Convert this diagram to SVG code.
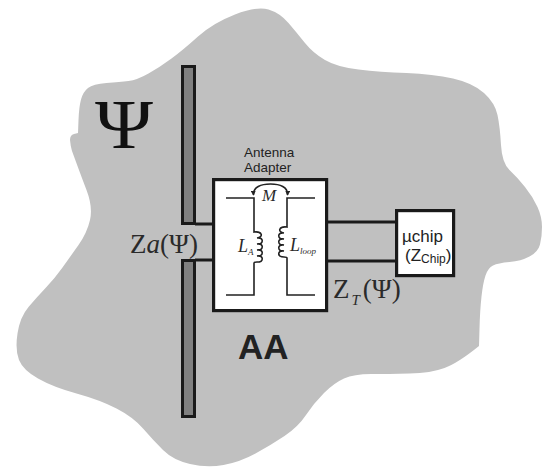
<svg xmlns="http://www.w3.org/2000/svg" width="542" height="472" viewBox="0 0 542 472">
<style>
.bar{fill:#808080;stroke:#1a1a1a;stroke-width:3}
.box{fill:#fff;stroke:#1a1a1a;stroke-width:3.2}
.wire{fill:none;stroke:#1a1a1a;stroke-width:3.2}
.thin{fill:none;stroke:#222;stroke-width:1.6}
.sans{font-family:"Liberation Sans",Arial,sans-serif;fill:#222}
.serif{font-family:"Liberation Serif","Times New Roman",serif;fill:#2a2a2a}
.it{font-style:italic}
</style>
<defs>
<marker id="tip" viewBox="0 0 6 6" refX="5" refY="3" markerWidth="5" markerHeight="5" markerUnits="userSpaceOnUse" orient="auto-start-reverse"><path d="M0 0L6 3L0 6Z" fill="#222"/></marker>
</defs>
<rect width="542" height="472" fill="#fff"/>
<path id="ground" fill="#c0c0c0" d="M198 36.500Q183 50 171.500 58.500Q160 67 148.500 73.500Q137 80 128.500 81Q120 82 106.500 83Q93 84 88 88Q83 92 81 99.500Q79 107 78.500 120L78 133L74 134Q70 135 70 140Q70.500 146 72 151Q80 173 86.500 190Q93 207 90 220Q87 233 78.500 245Q70 257 62.500 267.500Q55 278 46 287.500Q37 297 28.500 307Q20 317 17.500 333.500Q15 350 19 360Q23 370 38 378.500Q53 387 76.500 393.500Q100 400 116.500 408.500Q133 417 143 428.500Q153 440 163 450Q173 460 190 464Q207 468 223.500 465Q240 462 255.500 453.500Q271 445 284.500 436Q298 427 306 415Q314 403 324 393Q334 383 344 378.500Q354 374 371 374Q388 374 409.500 373.500Q431 373 444.500 368Q458 363 479 346L479.500 328.500Q480 310 481.500 296.500Q483 283 485.500 275.500Q488 268 493 265.500Q498 263 509.500 262Q521 261 529.500 256.500Q538 252 540 244.500Q542 237 542 227Q542 217 537.500 207Q533 197 525 187Q517 177 509.500 170Q502 163 501 145Q500 127 497.500 115Q495 103 484 93Q473 83 453 78.500Q433 74 406.500 73Q380 72 358.500 69.500Q337 67 325 60Q313 53 305 43Q297 33 288.500 23Q280 13 268.500 9.500Q257 6 235 14.500Q213 23 198 36.500Z"/>
<g id="connectors">
<path class="wire" d="M195 224H214M195 260H214M327 222H396M327 261H396"/>
</g>
<g id="antenna-top"><rect class="bar" x="182.500" y="66.500" width="12" height="157"/></g>
<g id="antenna-bottom"><rect class="bar" x="182.500" y="260.500" width="12" height="156"/></g>
<g id="adapter">
<rect class="box" x="213.600" y="179.600" width="113" height="131"/>
<path class="thin" d="M226 198H254V232c8 -1 10 5 3 6c7 -1 7 6 0 6c7 -1 7 6 0 6c7 -1 7 6 0 6c7 -1 7 6 0 6c-1 0 -3 0 -3 1V295H226"/>
<path class="thin" d="M315 198H287V227c-8 -1 -10 5 -3 6c-7 -1 -7 6 0 6c-7 -1 -7 6 0 6c-7 -1 -7 6 0 6c-7 -1 -7 6 0 6c1 0 3 0 3 1V295H315"/>
<path class="thin" marker-start="url(#tip)" marker-end="url(#tip)" d="M253.500 195C253 187 261 184 270.500 184S288 187 287.500 195"/>
<text class="serif it" x="262" y="201" font-size="17">M</text>
<text class="serif it" x="238" y="252" font-size="18">L<tspan font-size="9" dy="3">A</tspan></text>
<text class="serif it" x="290" y="251" font-size="18">L<tspan font-size="9" dy="3">loop</tspan></text>
<text class="sans" font-size="13.500" x="244" y="157">Antenna</text>
<text class="sans" font-size="13.500" x="244" y="172">Adapter</text>
</g>
<g id="chip">
<rect class="box" x="396.600" y="210.600" width="57" height="65"/>
<text class="sans" font-size="17" x="402" y="242">µchip</text>
<text class="sans" font-size="17" x="405" y="261">(Z<tspan font-size="12" dy="2">Chip</tspan><tspan dy="-2">)</tspan></text>
</g>
<g id="labels">
<text class="serif" font-size="70" x="95" y="148" textLength="58" lengthAdjust="spacingAndGlyphs" style="fill:#111">Ψ</text>
<text class="serif" font-size="27" x="130" y="253">Z<tspan class="it">a</tspan>(Ψ)</text>
<text class="serif" font-size="27" x="333" y="298">Z<tspan class="it" font-size="15" dx="2" dy="7">T</tspan><tspan dx="3" dy="-7">(Ψ)</tspan></text>
<text class="sans" font-size="35" font-weight="700" x="238" y="359">AA</text>
</g>
</svg>
